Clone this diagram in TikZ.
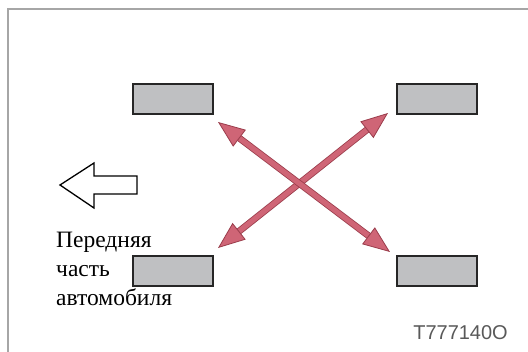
\documentclass[tikz,border=0pt]{standalone}
\usepackage{fontspec}
\setmainfont{Liberation Serif}
\newfontfamily\codefont{Liberation Sans}
\usetikzlibrary{arrows.meta}
\definecolor{wheelgray}{HTML}{BFC0C2}
\definecolor{swapred}{HTML}{CF6576}
\definecolor{swapedge}{HTML}{9A3C4B}

\begin{document}
\begin{tikzpicture}[x=1pt, y=-1pt,
    wheel/.style={draw=black!85, line width=2pt, fill=wheelgray,
      minimum width=80pt, minimum height=30pt, inner sep=0pt},
    swap/.style={draw=swapedge, line width=0.8pt, double=swapred, double distance=5.2pt,
      arrows={Triangle[length=27pt, width=21pt, fill=swapred, color=swapedge, line width=0.8pt]-Triangle[length=27pt, width=21pt, fill=swapred, color=swapedge, line width=0.8pt]}}]
    \useasboundingbox (0,0) rectangle (528,352);
    % frame
    \draw[black!35, line width=1.2pt] (8,352) -- (8,9) -- (528,9);
    % wheels
    \foreach \n/\x/\y in {fl/173/99, rl/437/99, fr/173/271, rr/437/271} {
        \node[wheel] (\n) at (\x,\y) {};
      }
    % cross rotation
    \draw[swap] ([shift={(4,-7)}]fr.north east) -- ([shift={(-8,-2)}]rl.south west);
    \draw[swap] ([shift={(4,7)}]fl.south east) -- ([shift={(-6,-3)}]rr.north west);
    % direction of travel
    \draw[black, line width=1.3pt, fill=white, line join=miter]
      (60,185) -- (94,163) -- (94,176) -- (137,176) -- (137,194) -- (94,194) -- (94,208) -- cycle;
    \node[anchor=north west, align=left, inner sep=0pt, font=\fontsize{23.5}{29}\selectfont]
      (front) at (56,232) {Передняя\\часть\\автомобиля};
    \node[anchor=base east, inner sep=0pt, text=black!65, font=\codefont\fontsize{20}{24}\selectfont]
      (code) at (508,340) {T777140O};
  \end{tikzpicture}
\end{document}
